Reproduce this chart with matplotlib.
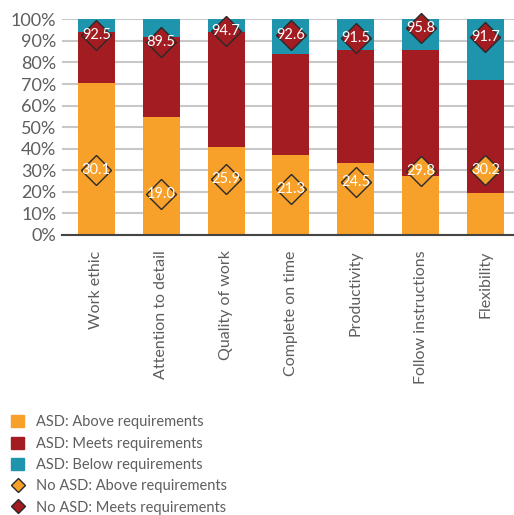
import matplotlib
matplotlib.use('Agg')
import matplotlib.pyplot as plt
from matplotlib.lines import Line2D
from matplotlib.patches import Patch
import numpy as np

categories = ['Work ethic', 'Attention to detail', 'Quality of work',
              'Complete on time', 'Productivity', 'Follow instructions',
              'Flexibility']
asd_above = [70.5, 54.5, 40.7, 37.0, 33.5, 27.3, 19.3]
asd_meets = [23.5, 37.3, 53.3, 47.1, 52.5, 58.7, 52.6]
asd_below = [6.0, 8.2, 6.0, 15.9, 14.0, 14.0, 28.1]
no_asd_above = [30.1, 19.0, 25.9, 21.3, 24.5, 29.8, 30.2]
no_asd_meets = [92.5, 89.5, 94.7, 92.6, 91.5, 95.8, 91.7]

ORANGE = '#F7A12A'
RED = '#A31C22'
TEAL = '#1F95AD'
EDGE = '#2A2A2A'
GREY = '#5E5E5E'

plt.rcParams['font.family'] = ['Lato', 'DejaVu Sans']

fig = plt.figure(figsize=(5.14, 5.15), dpi=100)
ax = fig.add_axes([0.1206, 0.5437, 0.8794, 0.4188])

x = np.arange(len(categories))
w = 0.57
above = np.array(asd_above)
meets = np.array(asd_meets)
ax.bar(x, above, w, color=ORANGE, zorder=2)
ax.bar(x, meets, w, bottom=above, color=RED, zorder=2)
ax.bar(x, asd_below, w, bottom=above + meets, color=TEAL, zorder=2)

ax.plot(x, no_asd_above, 'D', ms=15, mfc=ORANGE, mec=EDGE, mew=1,
        ls='none', zorder=3, clip_on=False)
ax.plot(x, no_asd_meets, 'D', ms=15, mfc=RED, mec=EDGE, mew=1,
        ls='none', zorder=3, clip_on=False)
for xi, v in zip(x, no_asd_above):
    ax.text(xi, v, f'{v:.1f}', ha='center', va='center', color='white',
            fontsize=10.5, zorder=4)
for xi, v in zip(x, no_asd_meets):
    ax.text(xi, v, f'{v:.1f}', ha='center', va='center', color='white',
            fontsize=10.5, zorder=4)

ax.set_xlim(-0.53, 6.44)
ax.set_ylim(0, 100)
ax.set_yticks(range(0, 101, 10))
ax.set_yticklabels([f'{t}%' for t in range(0, 101, 10)])
ax.set_xticks(x)
ax.set_xticklabels(categories, rotation=90)
ax.tick_params(axis='both', length=0, colors=GREY, labelsize=13)
ax.tick_params(axis='x', labelsize=11.5, pad=11)
ax.tick_params(axis='y', pad=4)
ax.grid(axis='y', color='#C8C8C8', lw=1.5, zorder=0)
for s in ['top', 'right', 'left']:
    ax.spines[s].set_visible(False)
ax.spines['bottom'].set_color('#444444')
ax.spines['bottom'].set_linewidth(1.5)
ax.spines['bottom'].set_zorder(3)

handles = [
    Patch(color=ORANGE, label='ASD: Above requirements'),
    Patch(color=RED, label='ASD: Meets requirements'),
    Patch(color=TEAL, label='ASD: Below requirements'),
    Line2D([], [], marker='D', ms=7.5, mfc=ORANGE, mec=EDGE, ls='none',
           label='No ASD: Above requirements'),
    Line2D([], [], marker='D', ms=7.5, mfc=RED, mec=EDGE, ls='none',
           label='No ASD: Meets requirements'),
]
fig.legend(handles=handles, loc='upper left', bbox_to_anchor=(0.01, 0.205),
           frameon=False, fontsize=10.5, labelcolor=GREY, handlelength=0.9,
           handleheight=0.9, handletextpad=0.8, labelspacing=0.5,
           borderaxespad=0)

fig.savefig('out.png', dpi=100)
